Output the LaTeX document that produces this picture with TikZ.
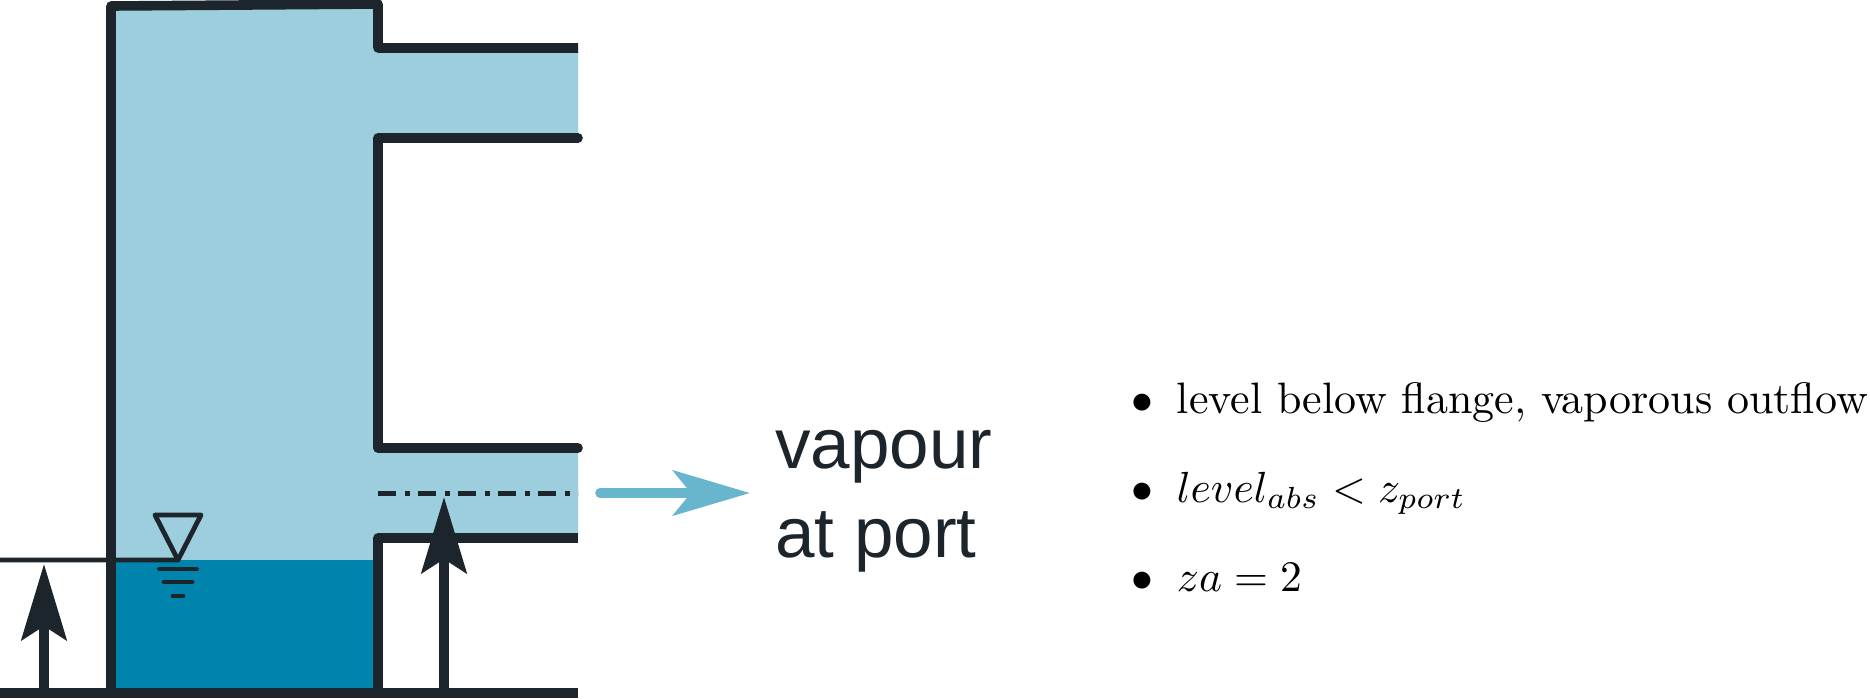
\documentclass[tikz,border=0pt]{standalone}
\usepackage{fontspec}
\newfontfamily\labelfont{Liberation Sans}
\usetikzlibrary{arrows.meta}
\definecolor{ink}{HTML}{1C252C}
\definecolor{vapourfill}{HTML}{9CCEDD}
\definecolor{waterfill}{HTML}{0084AD}
\definecolor{flowblue}{HTML}{67B6CE}
\tikzset{
	wall/.style={draw=ink,line width=4.8pt,line join=round},
	thin wall/.style={draw=ink,line width=2.4pt,line cap=round,line join=round},
	height arrow/.style={draw=ink,line width=4.8pt,-{Stealth[length=38pt,width=22.5pt,inset=7pt]}},
	flow arrow/.style={draw=flowblue,line width=4.8pt,line cap=round,-{Stealth[length=38.5pt,width=22.5pt,inset=9pt]}},
	item text/.style={anchor=base west,inner sep=0pt},
	port text/.style={anchor=base west,inner sep=0pt,text=ink,font=\labelfont\fontsize{35.5}{42}\selectfont}
}
\begin{document}
\begin{tikzpicture}[x=.5pt,y=-.5pt]
	\useasboundingbox (0,0) rectangle (1870,698);
	\path
	(111,6) coordinate (TL) (378,4) coordinate (TR)
	(378,48) coordinate (A) (578,48) coordinate (A')
	(378,138) coordinate (B) (578,138) coordinate (B')
	(378,448) coordinate (C) (578,448) coordinate (C')
	(378,538) coordinate (D) (578,538) coordinate (D')
	(378,693) coordinate (BR) (111,693) coordinate (BL)
	(0,693) coordinate (G) (578,693) coordinate (G')
	(0,560) coordinate (L) (178,560) coordinate (S) (378,560) coordinate (LR) (111,560) coordinate (LL)
	(155,515) coordinate (S1) (201,515) coordinate (S2)
	(44,693) coordinate (H1) (44,564) coordinate (H1')
	(444,693) coordinate (H2) (444,497) coordinate (H2')
	(378,493) coordinate (P) (578,493) coordinate (P')
	(600,493) coordinate (F) (750,493) coordinate (F')
	;
	% fluid
	\fill[vapourfill] (TL)--(TR)--(A)--(A')--(B')--(B)--(C)--(C')--(D')--(D)--(BR)--(BL)--cycle;
	\fill[waterfill] (LL)--(LR)--(BR)--(BL)--cycle;
	% level symbol
	\draw[thin wall] (L)--(S)--(S1)--(S2)--(S);
	\foreach \x/\w in {18.5/569,14/582,5/596} \draw[thin wall] (178-\x,\w)--(178+\x,\w);
	% vessel
	\draw[wall,line cap=butt] (BL)--(TL)--(TR)--(A)--(A');
	\draw[wall,line cap=round] (B')--(B)--(C)--(C');
	\draw[wall] (D')--(D)--(BR);
	\draw[draw=ink,line width=2.5pt,dash pattern=on 9pt off 4.5pt on 2.5pt off 4pt] (P)--(P');
	\draw[height arrow] (H1)--(H1');
	\draw[height arrow] (H2)--(H2');
	\draw[wall] (G)--(G');
	\draw[flow arrow] (F)--(F');
	\node[port text] (vapour) at (775,468) {vapour};
	\node[port text] (atport) at (775,557) {at port};
	% list on the right
	\foreach \n/\y/\s/\t in {a/413/2.2/{level below flange, vaporous outflow},b/502/2.18/{$level_{abs}<z_{port}$},c/591/2.18/{$za=2$}}{
		\node[item text,scale=\s] (item\n) at (1176,\y) {\t};
		\node[item text,scale=2.18] (dot\n) at (1131,\y) {$\bullet$};
	}
\end{tikzpicture}
\end{document}
